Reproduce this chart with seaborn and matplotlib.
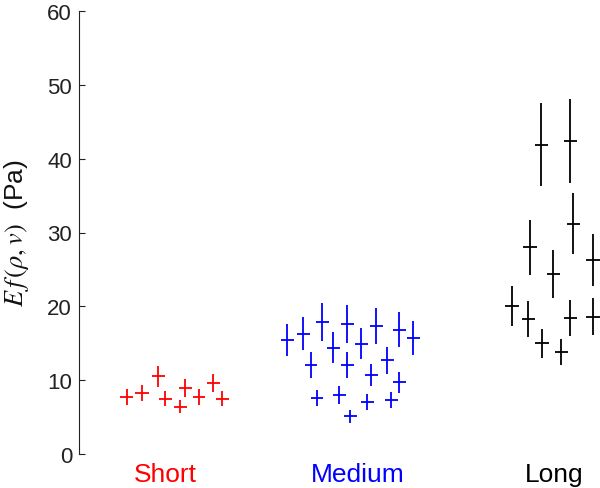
import numpy as np
import seaborn as sns
import matplotlib.pyplot as plt

# group labels and where they sit on the x axis
groups = ['Short', 'Medium', 'Long']
group_pos = [0.865, 2.785, 4.75]
group_colors = ['#ff0000', '#0000ff', '#000000']

# short simulations
short_x = [0.48, 0.63, 0.79, 0.86, 1.01, 1.06, 1.20, 1.34, 1.43]
short_y = [7.7, 8.3, 10.5, 7.5, 6.4, 9.0, 7.7, 9.6, 7.5]
short_err = [1.08, 1.1, 1.4, 1.06, 0.9, 1.22, 1.08, 1.25, 1.04]

# medium simulations
medium_x = [2.08, 2.24, 2.43, 2.68, 2.97, 3.20, 3.34, 2.54, 2.82, 2.32,
            2.68, 3.08, 2.92, 3.20, 2.38, 2.60, 2.88, 3.12, 2.71]
medium_y = [15.4, 16.3, 17.9, 17.6, 17.3, 16.8, 15.7, 14.4, 14.9, 12.1,
            12.1, 12.7, 10.7, 9.7, 7.6, 8.0, 7.0, 7.3, 5.1]
medium_err = [2.15, 2.28, 2.53, 2.53, 2.44, 2.37, 2.26, 2.08, 2.1, 1.74,
              1.74, 1.8, 1.54, 1.4, 1.13, 1.22, 1.06, 1.08, 0.85]

# long simulations
long_x = [4.62, 4.91, 4.51, 4.94, 4.74, 5.14, 4.33, 4.49, 4.63, 4.82, 4.91, 5.14]
long_y = [41.9, 42.4, 28.0, 31.2, 24.4, 26.3, 20.1, 18.3, 15.0, 13.8, 18.4, 18.6]
long_err = [5.6, 5.67, 3.7, 4.15, 3.23, 3.5, 2.71, 2.44, 1.96, 1.81, 2.44, 2.49]

sns.set_style('ticks')
plt.rcParams['font.family'] = ['Liberation Sans', 'DejaVu Sans']
plt.rcParams['mathtext.fontset'] = 'stix'
plt.rcParams['text.color'] = '#111111'
plt.rcParams['axes.labelcolor'] = '#111111'
plt.rcParams['ytick.color'] = '#222222'

fig = plt.figure(figsize=(6, 4.89), dpi=100)
ax = fig.add_axes([79 / 600, 34 / 489, 521 / 600, 443 / 489])

data = [(short_x, short_y, short_err), (medium_x, medium_y, medium_err),
        (long_x, long_y, long_err)]
for (xs, ys, es), c in zip(data, group_colors):
    ax.errorbar(xs, ys, xerr=0.065, yerr=es, fmt='none', ecolor=c,
                elinewidth=1.3, capsize=0)

ax.set_xlim(0, 5.21)
ax.set_ylim(0, 60)
ax.set_yticks(np.arange(0, 61, 10))
ax.tick_params(axis='y', direction='in', length=4, width=0.8, labelsize=16,
               pad=5, labelcolor='#222222')
ax.set_xticks(group_pos)
ax.set_xticklabels(groups, fontsize=19)
ax.tick_params(axis='x', length=0, pad=6)
for lbl, c in zip(ax.get_xticklabels(), group_colors):
    lbl.set_color(c)

sns.despine(ax=ax, bottom=True)
ax.spines['left'].set_linewidth(0.8)
ax.spines['left'].set_color('#222222')
ax.set_ylabel(r'$E\,f\,(\rho,v)$  (Pa)', fontsize=19, labelpad=12)

fig.savefig('out.png', dpi=100)
